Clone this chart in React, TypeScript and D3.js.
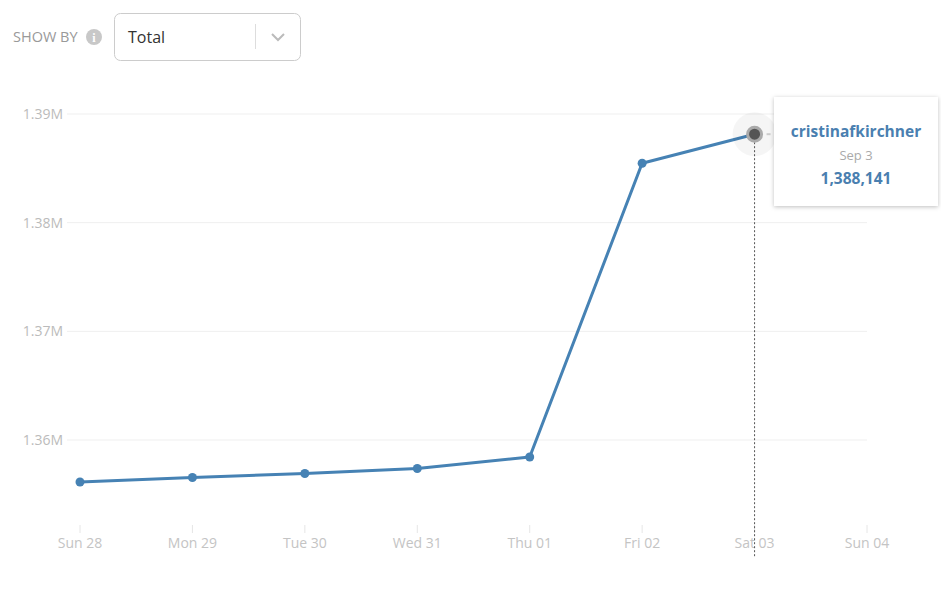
import React from "react";
import * as d3 from "d3";

const days = ["2016-08-28", "2016-08-29", "2016-08-30", "2016-08-31", "2016-09-01", "2016-09-02", "2016-09-03"];
const values = [1356140, 1356550, 1356920, 1357380, 1358440, 1385470, 1388141];
const yTicks = [1360000, 1370000, 1380000, 1390000];
const xTickDays = ["2016-08-28", "2016-08-29", "2016-08-30", "2016-08-31", "2016-09-01", "2016-09-02", "2016-09-03", "2016-09-04"];
const seriesName = "cristinafkirchner";
const hoverIndex = 6;

const parse = d3.timeParse("%Y-%m-%d");

export default function App() {
  const W = 941, H = 589;
  const x = d3.scaleTime().domain([parse(xTickDays[0])!, parse(xTickDays[xTickDays.length - 1])!]).range([80, 867]);
  const y = d3.scaleLinear().domain([1360000, 1390000]).range([440, 114]);
  const data = days.map((d, i) => ({ date: parse(d)!, v: values[i] }));
  const line = d3.line<{ date: Date; v: number }>().x(d => x(d.date)).y(d => y(d.v));
  const fmtX = d3.timeFormat("%a %d");
  const fmtY = (v: number) => d3.format(".2f")(v / 1e6) + "M";
  const hp = data[hoverIndex];
  const hx = x(hp.date), hy = y(hp.v);
  const font = "'Open Sans', 'Segoe UI', sans-serif";
  const blue = "#4682b4";

  return (
    <svg width={W} height={H} style={{ position: "absolute", left: 0, top: 0, fontFamily: font }}>
      <defs>
        <filter id="sh" x="-20%" y="-20%" width="140%" height="150%">
          <feDropShadow dx="0" dy="1" stdDeviation="2" floodColor="#000" floodOpacity="0.25" />
        </filter>
      </defs>
      {/* header */}
      <text x={13} y={42} fontSize={14.5} fill="#999">SHOW BY</text>
      <circle cx={94} cy={37} r={8} fill="#c8c8c8" />
      <text x={94} y={41.5} fontSize={12} fontWeight="bold" fill="#fff" textAnchor="middle" fontFamily="serif">i</text>
      <rect x={114.5} y={13.5} width={186} height={47} rx={6} fill="#fff" stroke="#ccc" />
      <text x={128} y={43} fontSize={16} fill="#333">Total</text>
      <line x1={255.5} x2={255.5} y1={24} y2={49} stroke="#ddd" />
      <path d="M272,34 L278,40 L284,34" fill="none" stroke="#bbb" strokeWidth={2} />

      {/* grid */}
      {yTicks.map(t => (
        <g key={t}>
          <line x1={67} x2={867} y1={y(t)} y2={y(t)} stroke="#efefef" />
          <text x={63} y={y(t) + 5} fontSize={14} fill="#bbb" textAnchor="end">{fmtY(t)}</text>
        </g>
      ))}
      {xTickDays.map(d => {
        const xx = x(parse(d)!);
        return (
          <g key={d}>
            <line x1={xx} x2={xx} y1={525} y2={533} stroke="#e6e6e6" />
            <text x={xx} y={548} fontSize={14} fill="#c4c4c4" textAnchor="middle">{fmtX(parse(d)!)}</text>
          </g>
        );
      })}

      {/* series */}
      <path d={line(data)!} fill="none" stroke={blue} strokeWidth={3} strokeLinejoin="round" />
      {data.map((d, i) => i !== hoverIndex && (
        <circle key={i} cx={x(d.date)} cy={y(d.v)} r={4.5} fill={blue} />
      ))}

      {/* hover */}
      <line x1={hx} x2={hx} y1={hy} y2={557} stroke="#555" strokeDasharray="2,2" />
      <circle cx={hx} cy={hy} r={22} fill="#000" fillOpacity={0.04} />
      <circle cx={hx} cy={hy} r={7} fill="#555" stroke="#aaa" strokeWidth={3} />
      <line x1={hx + 12} x2={hx + 16} y1={hy} y2={hy} stroke="#ccc" strokeWidth={2} />

      {/* tooltip */}
      <rect x={774} y={97} width={164} height={109} fill="#fff" filter="url(#sh)" />
      <text x={856} y={137} fontSize={15.5} fontWeight="bold" fill="#4a7fb0" textAnchor="middle">{seriesName}</text>
      <text x={856} y={160} fontSize={13} fill="#aaa" textAnchor="middle">{d3.timeFormat("%b %-d")(hp.date)}</text>
      <text x={856} y={184} fontSize={15.5} fontWeight="bold" fill="#4a7fb0" textAnchor="middle">{d3.format(",")(hp.v)}</text>
    </svg>
  );
}
